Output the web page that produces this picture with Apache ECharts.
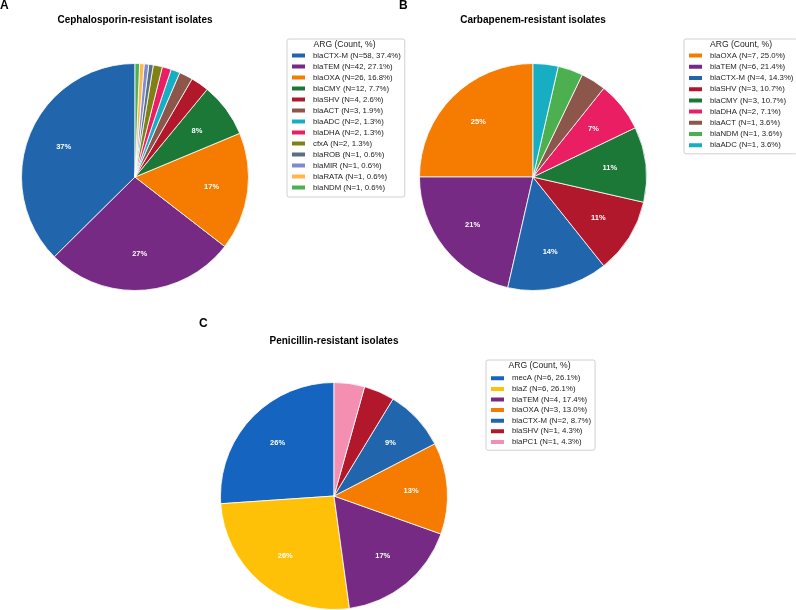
<!DOCTYPE html>
<html>
<head>
<meta charset="utf-8">
<script src="https://cdn.jsdelivr.net/npm/echarts@6/dist/echarts.min.js"></script>
<style>
    html, body { margin: 0; padding: 0; background: #fff; }
    #chart { width: 796px; height: 610px; }
</style>
</head>
<body>
<div id="chart"></div>
<script>
// 数据：三类耐药菌株的 ARG 计数
const cephNames = ['blaCTX-M', 'blaTEM', 'blaOXA', 'blaCMY', 'blaSHV', 'blaACT', 'blaADC', 'blaDHA', 'cfxA', 'blaROB', 'blaMIR', 'blaRATA', 'blaNDM']
const cephCounts = [58, 42, 26, 12, 4, 3, 2, 2, 2, 1, 1, 1, 1]

const carbNames = ['blaOXA', 'blaTEM', 'blaCTX-M', 'blaSHV', 'blaCMY', 'blaDHA', 'blaACT', 'blaNDM', 'blaADC']
const carbCounts = [7, 6, 4, 3, 3, 2, 1, 1, 1]

const peniNames = ['mecA', 'blaZ', 'blaTEM', 'blaOXA', 'blaCTX-M', 'blaSHV', 'blaPC1']
const peniCounts = [6, 6, 4, 3, 2, 1, 1]

const panelTitles = ['Cephalosporin-resistant isolates', 'Carbapenem-resistant isolates', 'Penicillin-resistant isolates']
const panelLetters = ['A', 'B', 'C']

// 基因对应颜色
const GENE_COLOR = {
    'blaCTX-M': '#2166ac',
    'blaTEM': '#762a83',
    'blaOXA': '#f57c00',
    'blaCMY': '#1b7837',
    'blaSHV': '#b2182b',
    'blaACT': '#8c564b',
    'blaADC': '#17aec4',
    'blaDHA': '#e91e63',
    'cfxA': '#808015',
    'blaROB': '#5b6f7f',
    'blaMIR': '#7f8bd0',
    'blaRATA': '#ffb74d',
    'blaNDM': '#4caf50',
    'mecA': '#1565c0',
    'blaZ': '#ffc107',
    'blaPC1': '#f48fb1'
}

const FONT = 'Liberation Sans, Arial, sans-serif'
const R = 113.5

const panels = [
    { names: cephNames, counts: cephCounts, center: [135, 177], legend: { left: 287, top: 39, lh: 11, pad: [11, 4, 4, 3] }, titlePos: [135, 15], letterPos: [0, 0], argPos: [344.5, 40] },
    { names: carbNames, counts: carbCounts, center: [533, 177], legend: { left: 684, top: 39, lh: 11.2, pad: [11, 4, 3, 3] }, titlePos: [533, 15], letterPos: [399, 0], argPos: [741, 40] },
    { names: peniNames, counts: peniCounts, center: [334, 496], legend: { left: 486, top: 360, lh: 10.6, pad: [13, 4, 3, 3] }, titlePos: [334, 336], letterPos: [199, 318], argPos: [539.5, 361] }
]

const sum = arr => arr.reduce((a, b) => a + b, 0)

const series = []
const labelSeries = []
const legends = []
const titles = []

panels.forEach((p, i) => {
    const total = sum(p.counts)
    const data = p.names.map((n, k) => ({ name: n, value: p.counts[k], itemStyle: { color: GENE_COLOR[n] } }))

    // 饼图本体
    series.push({
        type: 'pie',
        center: p.center,
        radius: [0, R],
        startAngle: 90,
        clockwise: false,
        silent: true,
        label: { show: false },
        labelLine: { show: false },
        itemStyle: { borderColor: '#fff', borderWidth: 0.8 },
        emphasis: { disabled: true },
        data: data
    })

    // 透明覆盖层，用于把百分比标签放在 0.65R 处
    labelSeries.push({
        type: 'pie',
        center: p.center,
        radius: [35, R],
        startAngle: 90,
        clockwise: false,
        silent: true,
        z: 5,
        itemStyle: { color: 'transparent', borderWidth: 0 },
        emphasis: { disabled: true },
        labelLine: { show: false },
        label: {
            show: true,
            position: 'inside',
            color: '#fff',
            fontWeight: 'bold',
            fontSize: 7.5,
            fontFamily: FONT,
            formatter: prm => {
                const pct = prm.value / total * 100
                return pct >= 5 ? Math.round(pct) + '%' : ''
            }
        },
        data: p.names.map((n, k) => ({ name: n + ' ', value: p.counts[k] }))
    })

    legends.push({
        orient: 'vertical',
        left: p.legend.left,
        top: p.legend.top,
        padding: p.legend.pad,
        itemGap: 0,
        itemWidth: 15,
        itemHeight: 6,
        icon: 'rect',
        borderColor: '#d0d0d0',
        borderWidth: 1,
        borderRadius: 2,
        backgroundColor: '#fff',
        selectedMode: false,
        data: p.names,
        textStyle: {
            fontSize: 7.8,
            fontFamily: FONT,
            color: '#222',
            lineHeight: p.legend.lh,
            padding: [0, 0, 0, 2]
        },
        formatter: name => {
            const k = p.names.indexOf(name)
            const c = p.counts[k]
            return `${name} (N=${c}, ${(c / total * 100).toFixed(1)}%)`
        }
    })

    titles.push({
        text: panelTitles[i],
        left: p.titlePos[0],
        top: p.titlePos[1],
        textAlign: 'center',
        padding: 0,
        textStyle: { fontSize: 10, fontWeight: 'bold', fontFamily: FONT, color: '#000' }
    })
    titles.push({
        text: panelLetters[i],
        left: p.letterPos[0],
        top: p.letterPos[1],
        padding: 0,
        textStyle: { fontSize: 12, fontWeight: 'bold', fontFamily: FONT, color: '#000' }
    })
    titles.push({
        text: 'ARG (Count, %)',
        left: p.argPos[0],
        top: p.argPos[1],
        textAlign: 'center',
        padding: 0,
        z: 10,
        textStyle: { fontSize: 8.6, fontWeight: 'normal', fontFamily: FONT, color: '#222' }
    })
})

const myChart = echarts.init(document.getElementById('chart'), null, { renderer: 'canvas' })
myChart.setOption({
    animation: false,
    backgroundColor: '#fff',
    title: titles,
    legend: legends,
    series: series.concat(labelSeries)
})
</script>
</body>
</html>
